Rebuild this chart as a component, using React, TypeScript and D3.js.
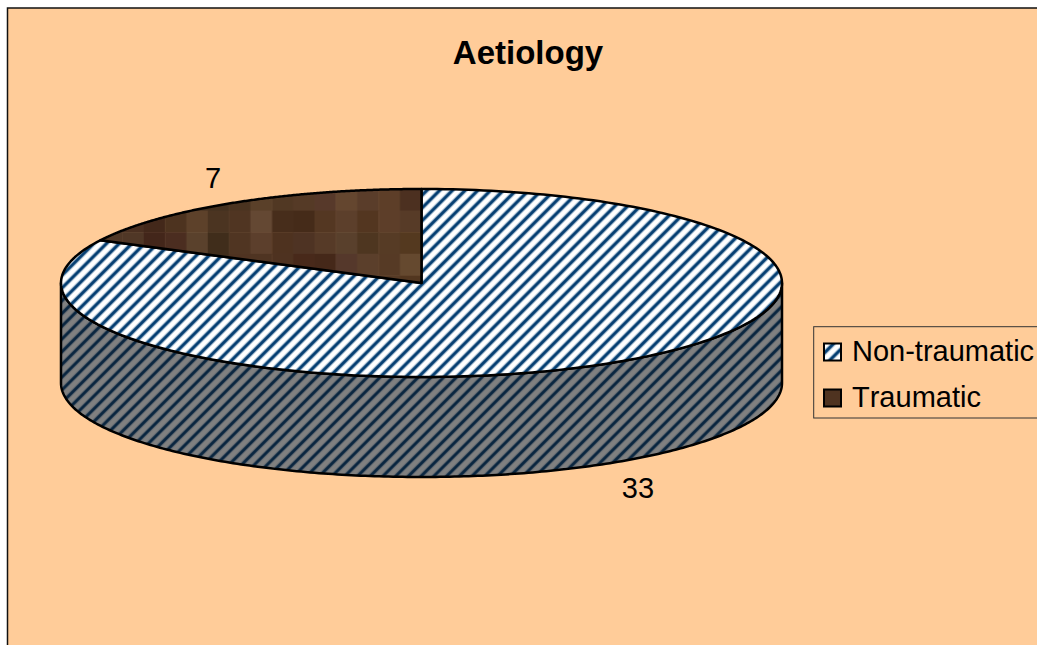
import React from "react";
import * as d3 from "d3";

const categories = ["Non-traumatic", "Traumatic"];
const values = [33, 7];
const chartTitle = "Aetiology";

// Bark-like swatch colours for the traumatic slice, one list per row of tiles.
const tileColumnsStart = 101;
const tileRowsStart = 189;
const barkRow0 = ["#503726", "#503726", "#4a3120", "#4f3420", "#43301f", "#43301f", "#4a3320", "#5a4029", "#513823", "#553a26", "#57392a", "#64462f", "#5a3d2a", "#5d3e28", "#4c3020"];
const barkRow1 = ["#503726", "#4a2f20", "#43281a", "#4d331f", "#5d412a", "#4b3421", "#503522", "#644833", "#472d1b", "#452b19", "#543722", "#5c3f2b", "#533620", "#5d3e29", "#573b27"];
const barkRow2 = ["#503726", "#503726", "#43261a", "#4b2d20", "#5a412c", "#402d1b", "#503522", "#5c3f2c", "#4e321f", "#4e3323", "#563a27", "#59402c", "#4e3620", "#563b25", "#54391f"];
const barkRow3 = ["#503726", "#503726", "#43261a", "#4b2d20", "#5a412c", "#402d1b", "#4f3321", "#4f3422", "#4e3220", "#48291a", "#452819", "#55382b", "#5b3f2b", "#563a25", "#65492f"];
const barkRow4 = ["#503726", "#503726", "#43261a", "#4b2d20", "#5a412c", "#402d1b", "#4f3321", "#4f3422", "#4e3220", "#48291a", "#452819", "#55382b", "#5b3f2b", "#563a25", "#52361f"];
const barkRows = [barkRow0, barkRow1, barkRow2, barkRow3, barkRow4];

const WIDTH = 1037;
const HEIGHT = 645;
const CX = 421.5;
const CY = 283;
const RX = 360.5;
const RY = 94;
const DEPTH = 100;
const TILE_W = 21.35;
const TILE_H = 21.6;
const OUTLINE = 2.5;
const FONT = "'Liberation Sans', Arial, sans-serif";

// Maps a pie angle (0 = top, clockwise) onto the tilted rim of the disc.
const rimPoint = (angle: number, drop = 0): [number, number] => [
  CX + RX * Math.sin(angle),
  CY - RY * Math.cos(angle) + drop,
];

const sampleRim = (from: number, to: number, drop = 0): [number, number][] =>
  d3.range(0, 241).map((i) => rimPoint(from + ((to - from) * i) / 240, drop));

const linePath = d3.line<[number, number]>();

const pie = d3.pie<number>().sort(null);
const slices = pie(values);

function slicePath(start: number, end: number): string {
  return `${linePath([[CX, CY], ...sampleRim(start, end)])}Z`;
}

// The front wall is the rim's lower half, extruded downward.
function wallPath(): string {
  const top = sampleRim(Math.PI / 2, (3 * Math.PI) / 2);
  const bottom = sampleRim((3 * Math.PI) / 2, Math.PI / 2, DEPTH);
  return `${linePath([...top, ...bottom])}Z`;
}

function Stripes({ id, ground, core, halo }: { id: string; ground: string; core: string; halo: string }) {
  const period = 9;
  return (
    <pattern id={id} patternUnits="userSpaceOnUse" width={period} height={period} patternTransform="rotate(45)">
      <rect width={period} height={period} fill={ground} />
      <rect x={2.5} width={4} height={period} fill={halo} />
      <rect x={3.2} width={2.6} height={period} fill={core} />
    </pattern>
  );
}

export default function App() {
  const swatchFills = ["url(#hatchTop)", "#4f3320"];
  const legendY = d3.scalePoint<string>().domain(categories).range([352, 398]);

  return (
    <svg
      width={WIDTH}
      height={HEIGHT}
      viewBox={`0 0 ${WIDTH} ${HEIGHT}`}
      style={{ position: "absolute", left: 0, top: 0, display: "block" }}
    >
      <defs>
        <Stripes id="hatchTop" ground="#ffffff" core="#003a6e" halo="#6f93b3" />
        <Stripes id="hatchWall" ground="#808080" core="#06233d" halo="#505c68" />
        <pattern
          id="bark"
          patternUnits="userSpaceOnUse"
          x={tileColumnsStart}
          y={tileRowsStart}
          width={TILE_W * barkRow0.length}
          height={TILE_H * barkRows.length}
        >
          {barkRows.map((row, r) =>
            row.map((color, c) => (
              <rect
                key={`${r}-${c}`}
                x={c * TILE_W}
                y={r * TILE_H}
                width={TILE_W + 0.5}
                height={TILE_H + 0.5}
                fill={color}
              />
            ))
          )}
        </pattern>
      </defs>

      <rect width={WIDTH} height={HEIGHT} fill="#ffffff" />
      <rect x={7.5} y={8} width={WIDTH + 20} height={HEIGHT + 20} fill="#ffcc99" stroke="#111111" strokeWidth={1.5} />

      <text x={528} y={64} textAnchor="middle" fontFamily={FONT} fontSize={33} fontWeight="bold" fill="#000">
        {chartTitle}
      </text>

      <path d={wallPath()} fill="url(#hatchWall)" stroke="#000" strokeWidth={OUTLINE} strokeLinejoin="round" />
      {slices.map((s, i) => (
        <path
          key={categories[i]}
          d={slicePath(s.startAngle, s.endAngle)}
          fill={i === 0 ? "url(#hatchTop)" : "url(#bark)"}
          stroke="#000"
          strokeWidth={OUTLINE}
          strokeLinejoin="round"
        />
      ))}

      <text x={638} y={498} textAnchor="middle" fontFamily={FONT} fontSize={29} fill="#000">
        {values[0]}
      </text>
      <text x={213} y={188} textAnchor="middle" fontFamily={FONT} fontSize={29} fill="#000">
        {values[1]}
      </text>

      <rect x={813.7} y={326.7} width={300} height={91.3} fill="none" stroke="#333333" strokeWidth={1} />
      {categories.map((name, i) => (
        <g key={name}>
          <rect
            x={824}
            y={(legendY(name) as number) - 8.5}
            width={17}
            height={17}
            fill={swatchFills[i]}
            stroke="#000"
            strokeWidth={2}
          />
          <text
            x={852}
            y={(legendY(name) as number) + 8.5}
            fontFamily={FONT}
            fontSize={29}
            fill="#000"
            style={{ fontKerning: "none" }}
          >
            {name}
          </text>
        </g>
      ))}
    </svg>
  );
}
